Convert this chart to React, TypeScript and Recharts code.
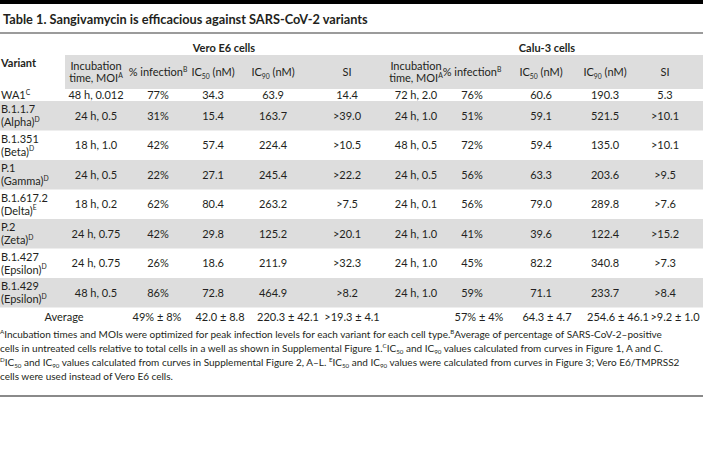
import React from "react";
import { ReferenceArea, ReferenceLine, Scatter, ScatterChart, XAxis, YAxis } from "recharts";

// ---- table content -------------------------------------------------------
const variants = ["WA1", "B.1.1.7", "B.1.351", "P.1", "B.1.617.2", "P.2", "B.1.427", "B.1.429"];
const lineages = ["", "Alpha", "Beta", "Gamma", "Delta", "Zeta", "Epsilon", "Epsilon"];
const variantNotes = ["C", "D", "D", "D", "E", "D", "D", "D"];

const veroIncubation = ["48 h, 0.012", "24 h, 0.5", "18 h, 1.0", "24 h, 0.5", "18 h, 0.2", "24 h, 0.75", "24 h, 0.75", "48 h, 0.5"];
const veroInfection = ["77%", "31%", "42%", "22%", "62%", "42%", "26%", "86%"];
const veroIc50 = ["34.3", "15.4", "57.4", "27.1", "80.4", "29.8", "18.6", "72.8"];
const veroIc90 = ["63.9", "163.7", "224.4", "245.4", "263.2", "125.2", "211.9", "464.9"];
const veroSi = ["14.4", ">39.0", ">10.5", ">22.2", ">7.5", ">20.1", ">32.3", ">8.2"];
const veroAverage = ["49% ± 8%", "42.0 ± 8.8", "220.3 ± 42.1", ">19.3 ± 4.1"];

const caluIncubation = ["72 h, 2.0", "24 h, 1.0", "48 h, 0.5", "24 h, 0.5", "24 h, 0.1", "24 h, 1.0", "24 h, 1.0", "24 h, 1.0"];
const caluInfection = ["76%", "51%", "72%", "56%", "56%", "41%", "45%", "59%"];
const caluIc50 = ["60.6", "59.1", "59.4", "63.3", "79.0", "39.6", "82.2", "71.1"];
const caluIc90 = ["190.3", "521.5", "135.0", "203.6", "289.8", "122.4", "340.8", "233.7"];
const caluSi = ["5.3", ">10.1", ">10.1", ">9.5", ">7.6", ">15.2", ">7.3", ">8.4"];
const caluAverage = ["57% ± 4%", "64.3 ± 4.7", "254.6 ± 46.1", ">9.2 ± 1.0"];

const title = "Table 1. Sangivamycin is efficacious against SARS-CoV-2 variants";
const groupLabels = ["Vero E6 cells", "Calu-3 cells"];
const headerLines = [["Incubation", "time, MOI^{A}"], ["% infection^{B}"], ["IC_{50} (nM)"], ["IC_{90} (nM)"], ["SI"]];

// ^{x} = superscript, _{x} = subscript
const footnotes = [
  "^{A}Incubation times and MOIs were optimized for peak infection levels for each variant for each cell type.^{B}Average of percentage of SARS-CoV-2–positive",
  "cells in untreated cells relative to total cells in a well as shown in Supplemental Figure 1.^{C}IC_{50} and IC_{90} values calculated from curves in Figure 1, A and C.",
  "^{D}IC_{50} and IC_{90} values calculated from curves in Supplemental Figure 2, A–L. ^{E}IC_{50} and IC_{90} values were calculated from curves in Figure 3; Vero E6/TMPRSS2",
  "cells were used instead of Vero E6 cells.",
];

// ---- layout ---------------------------------------------------------------
const W = 703;
const H = 454;
const FONT = "Lato, 'Noto Sans', sans-serif";
const INK = "#231f20";
const SHADE = "#dddddd";
const BODY = 11;
const NOTE = 10;

const veroCols = [96, 158, 213, 273, 347];
const caluCols = [416, 472, 541, 605, 665];
const veroAvgCols = [157, 220, 288, 352];
const caluAvgCols = [479, 547, 618, 675];
const groupCenters = [224, 547];
const rowTop = (i: number) => (i === 0 ? 89 : 101 + (i - 1) * 29.5);
const rowHeight = (i: number) => (i === 0 ? 12 : 29.5);
const footY = [334, 348, 362, 376];

type Cell = { x: number; y: number; text: string; anchor?: "start" | "middle"; bold?: boolean; size?: number };

function buildCells(): Cell[] {
  const cells: Cell[] = [];
  cells.push({ x: 3, y: 20, text: title, anchor: "start", bold: true, size: 12.75 });
  groupLabels.forEach((g, i) => cells.push({ x: groupCenters[i], y: 48, text: g, bold: true }));
  cells.push({ x: 1, y: 63, text: "Variant", anchor: "start", bold: true });

  [veroCols, caluCols].forEach((cols) => {
    headerLines.forEach((lines, c) => {
      if (lines.length === 2) {
        cells.push({ x: cols[c], y: 66, text: lines[0] });
        cells.push({ x: cols[c], y: 78, text: lines[1] });
      } else {
        cells.push({ x: cols[c], y: 72, text: lines[0] });
      }
    });
  });

  variants.forEach((v, i) => {
    const cy = rowTop(i) + rowHeight(i) / 2;
    if (lineages[i]) {
      cells.push({ x: 1, y: cy - 6.5, text: v, anchor: "start" });
      cells.push({ x: 1, y: cy + 6.5, text: `(${lineages[i]})^{${variantNotes[i]}}`, anchor: "start" });
    } else {
      cells.push({ x: 1, y: cy, text: `${v}^{${variantNotes[i]}}`, anchor: "start" });
    }
    [veroIncubation, veroInfection, veroIc50, veroIc90, veroSi].forEach((col, c) =>
      cells.push({ x: veroCols[c], y: cy, text: col[i] })
    );
    [caluIncubation, caluInfection, caluIc50, caluIc90, caluSi].forEach((col, c) =>
      cells.push({ x: caluCols[c], y: cy, text: col[i] })
    );
  });

  cells.push({ x: 64, y: 317, text: "Average" });
  veroAverage.forEach((t, c) => cells.push({ x: veroAvgCols[c], y: 317, text: t }));
  caluAverage.forEach((t, c) => cells.push({ x: caluAvgCols[c], y: 317, text: t }));

  footnotes.forEach((t, i) => cells.push({ x: 0, y: footY[i], text: t, anchor: "start", size: NOTE }));
  return cells;
}

const cells = buildCells();

function RichText(props: any) {
  const { cx, cy, payload } = props;
  const size = payload.size ?? BODY;
  const parts = payload.text.split(/(\^\{[^}]*\}|_\{[^}]*\})/).filter((p: string) => p !== "");
  let shift = 0;
  const spans = parts.map((p: string, k: number) => {
    let target = 0;
    let text = p;
    let fs = size;
    if (p.startsWith("^{")) {
      target = -size * 0.38;
      text = p.slice(2, -1);
      fs = size * 0.62;
    } else if (p.startsWith("_{")) {
      target = size * 0.25;
      text = p.slice(2, -1);
      fs = size * 0.62;
    }
    const dy = target - shift;
    shift = target;
    return (
      <tspan key={k} dy={dy} fontSize={fs}>
        {text}
      </tspan>
    );
  });
  return (
    <text
      x={cx}
      y={cy + size * 0.35}
      textAnchor={payload.anchor ?? "middle"}
      fontFamily={FONT}
      fontWeight={payload.bold ? 700 : 400}
      fontSize={size}
      fill={INK}
      style={{ whiteSpace: "pre" }}
    >
      {spans}
    </text>
  );
}

export default function App() {
  const shaded = [1, 3, 5, 7];
  return (
    <div style={{ position: "absolute", left: 0, top: 0, width: W, height: H, background: "#fff" }}>
      <ScatterChart width={W} height={H} margin={{ top: 0, right: 0, bottom: 0, left: 0 }}>
        <XAxis type="number" dataKey="x" domain={[0, W]} hide />
        <YAxis type="number" dataKey="y" domain={[0, H]} reversed hide />
        <ReferenceArea x1={0} x2={W} y1={0} y2={4} fill="#000" fillOpacity={1} stroke="none" />
        <ReferenceLine y={33} stroke="#7a7a7a" strokeWidth={1.5} />
        <ReferenceArea x1={65} x2={W} y1={55} y2={89} fill={SHADE} fillOpacity={1} stroke="none" />
        {shaded.map((i) => (
          <ReferenceArea
            key={i}
            x1={0}
            x2={W}
            y1={rowTop(i)}
            y2={rowTop(i) + rowHeight(i)}
            fill={SHADE}
            fillOpacity={1}
            stroke="none"
          />
        ))}
        <ReferenceLine y={396} stroke="#8a8a8a" strokeWidth={2} />
        <Scatter data={cells} isAnimationActive={false} shape={RichText} />
      </ScatterChart>
    </div>
  );
}
